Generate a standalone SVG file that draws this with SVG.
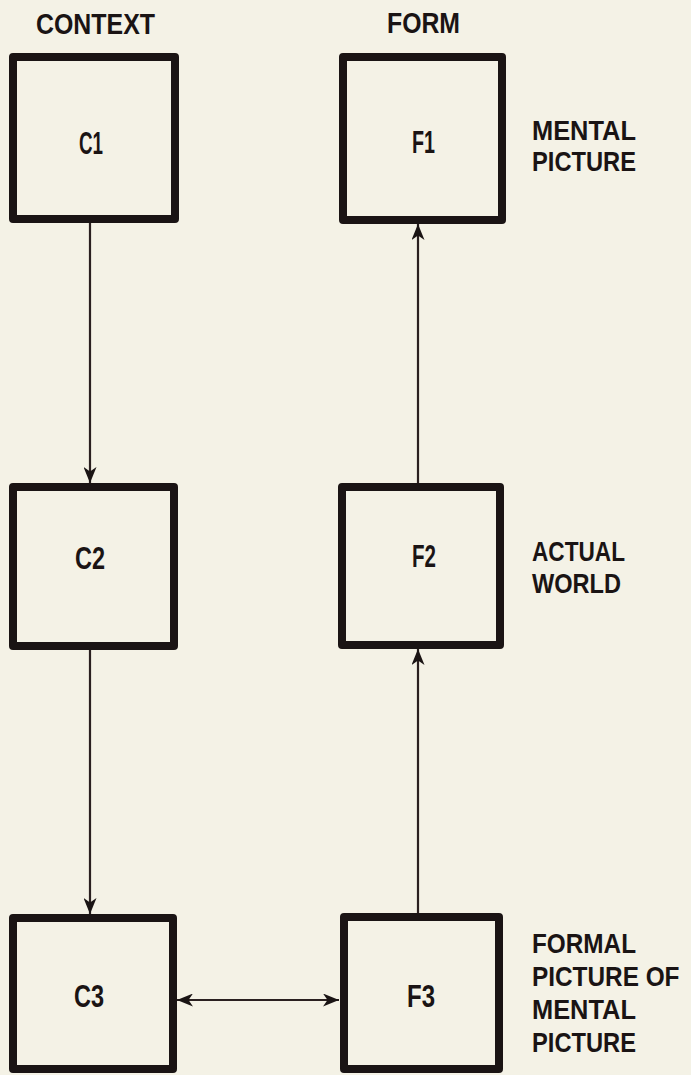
<svg xmlns="http://www.w3.org/2000/svg" width="691" height="1075" viewBox="0 0 691 1075">
  <style>
    .bg { fill: #f4f2e6; }
    .box { fill: none; stroke: #1a1414; stroke-width: 8; stroke-linejoin: round; }
    .wire { stroke: #2a2020; stroke-width: 2.2; fill: none; }
    text { font-family: "Liberation Sans", Arial, sans-serif; font-weight: bold; fill: #1a1414; }
    .head { font-size: 29px; }
    .id { font-size: 31px; }
    .note { font-size: 28px; }
  </style>
  <defs>
    <marker id="arrow" viewBox="0 0 16 13" refX="16" refY="6.5" markerWidth="16" markerHeight="13" markerUnits="userSpaceOnUse" orient="auto-start-reverse">
      <path d="M0,0 L16,6.5 L0,13 L4.5,6.5 Z" fill="#1a1414"/>
    </marker>
  </defs>

  <rect class="bg" x="0" y="0" width="691" height="1075"/>

  <!-- column headings -->
  <text class="head" x="36" y="34" textLength="119" lengthAdjust="spacingAndGlyphs">CONTEXT</text>
  <text class="head" x="387" y="33" textLength="73" lengthAdjust="spacingAndGlyphs">FORM</text>

  <!-- connectors -->
  <g id="connectors">
    <line class="wire" x1="90" y1="223" x2="90" y2="483" marker-end="url(#arrow)"/>
    <line class="wire" x1="90" y1="650" x2="90" y2="914" marker-end="url(#arrow)"/>
    <line class="wire" x1="418" y1="483" x2="418" y2="224" marker-end="url(#arrow)"/>
    <line class="wire" x1="418" y1="913" x2="418" y2="649" marker-end="url(#arrow)"/>
    <line class="wire" x1="177" y1="1000" x2="339" y2="1000" marker-start="url(#arrow)" marker-end="url(#arrow)"/>
  </g>

  <!-- context column -->
  <g id="C1">
    <rect class="box" x="13" y="57" width="162" height="162"/>
    <text class="id" x="79" y="154" textLength="24" lengthAdjust="spacingAndGlyphs">C1</text>
  </g>
  <g id="C2">
    <rect class="box" x="13" y="487" width="161" height="159"/>
    <text class="id" x="75" y="569" textLength="30" lengthAdjust="spacingAndGlyphs">C2</text>
  </g>
  <g id="C3">
    <rect class="box" x="13" y="918" width="160" height="151"/>
    <text class="id" x="74" y="1007" textLength="30" lengthAdjust="spacingAndGlyphs">C3</text>
  </g>

  <!-- form column -->
  <g id="F1">
    <rect class="box" x="343" y="57" width="159" height="163"/>
    <text class="id" x="412" y="153" textLength="23" lengthAdjust="spacingAndGlyphs">F1</text>
  </g>
  <g id="F2">
    <rect class="box" x="342" y="487" width="158" height="158"/>
    <text class="id" x="412" y="567" textLength="24" lengthAdjust="spacingAndGlyphs">F2</text>
  </g>
  <g id="F3">
    <rect class="box" x="344" y="917" width="155" height="152"/>
    <text class="id" x="407" y="1007" textLength="28" lengthAdjust="spacingAndGlyphs">F3</text>
  </g>

  <!-- row labels -->
  <g id="label-mental">
    <text class="note" x="532" y="140" textLength="104" lengthAdjust="spacingAndGlyphs">MENTAL</text>
    <text class="note" x="532" y="171" textLength="104" lengthAdjust="spacingAndGlyphs">PICTURE</text>
  </g>
  <g id="label-actual">
    <text class="note" x="532" y="561" textLength="93" lengthAdjust="spacingAndGlyphs">ACTUAL</text>
    <text class="note" x="532" y="593" textLength="89" lengthAdjust="spacingAndGlyphs">WORLD</text>
  </g>
  <g id="label-formal">
    <text class="note" x="532" y="953" textLength="104" lengthAdjust="spacingAndGlyphs">FORMAL</text>
    <!-- condensed by a horizontal scale so the line stays inside the right edge -->
    <text class="note" transform="translate(532,986) scale(0.87,1)">PICTURE OF</text>
    <text class="note" x="532" y="1019" textLength="104" lengthAdjust="spacingAndGlyphs">MENTAL</text>
    <text class="note" x="532" y="1052" textLength="104" lengthAdjust="spacingAndGlyphs">PICTURE</text>
  </g>
</svg>
